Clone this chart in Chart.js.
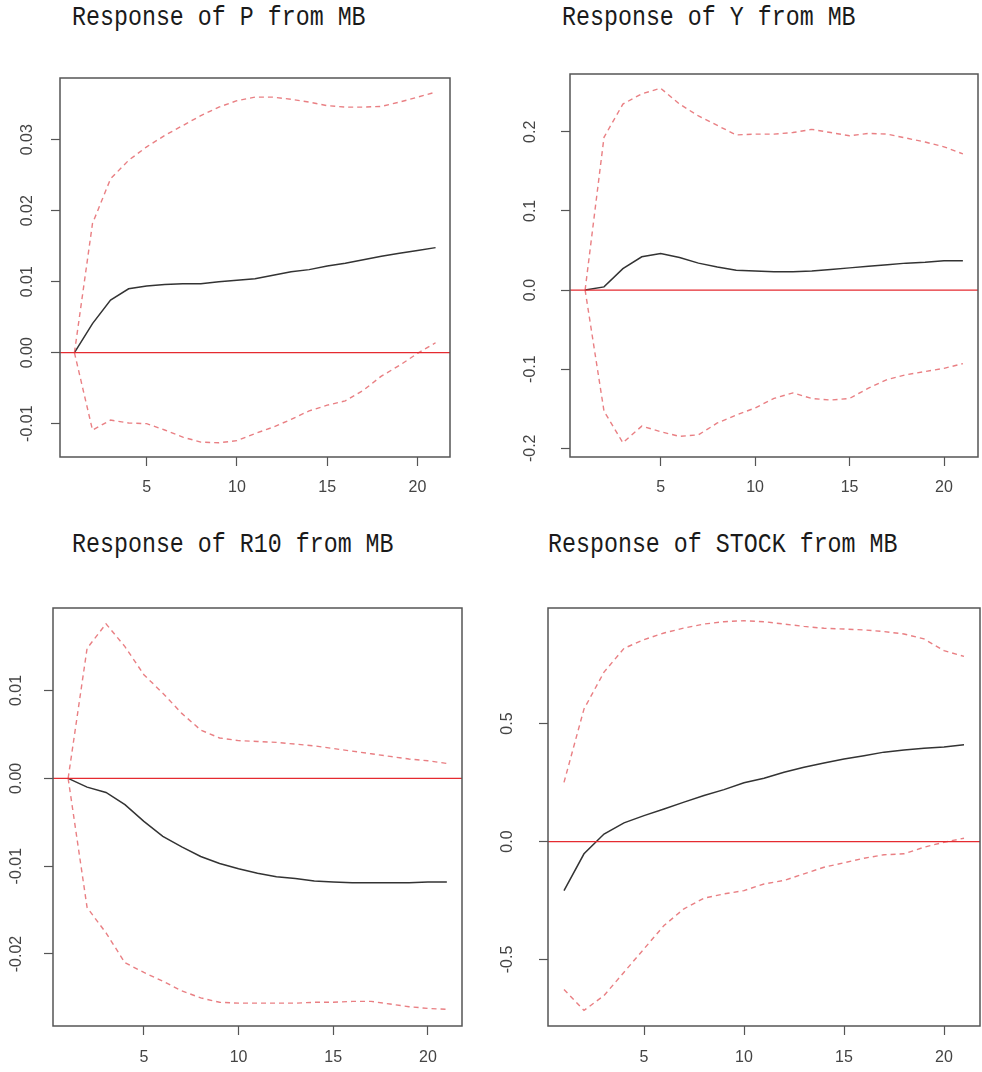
<!DOCTYPE html>
<html>
<head>
<meta charset="utf-8">
<script src="https://cdn.jsdelivr.net/npm/chart.js@4.4.0/dist/chart.umd.min.js"></script>
<style>
  html, body { margin: 0; padding: 0; background: #fff; }
  body { position: relative; width: 982px; height: 1072px; overflow: hidden; }
  canvas { position: absolute; }
  .title {
    position: absolute;
    font-family: "Liberation Mono", monospace;
    font-size: 23.3px;
    color: #1a1a1a;
    white-space: pre;
    transform: scaleY(1.2);
    transform-origin: left top;
  }
</style>
</head>
<body>
<div class="title" style="left:72px; top:2px;">Response of P from MB</div>
<div class="title" style="left:562px; top:2px;">Response of Y from MB</div>
<div class="title" style="left:72px; top:529px;">Response of R10 from MB</div>
<div class="title" style="left:548px; top:529px;">Response of STOCK from MB</div>

<canvas id="chartP" width="442" height="426" style="left:10px; top:76px;"></canvas>
<canvas id="chartY" width="460" height="430" style="left:520px; top:72px;"></canvas>
<canvas id="chartR10" width="461" height="465" style="left:3px; top:606px;"></canvas>
<canvas id="chartStock" width="484" height="465" style="left:498px; top:606px;"></canvas>

<script>
// impulse response horizon (periods)
const horizon = [1, 2, 3, 4, 5, 6, 7, 8, 9, 10, 11, 12, 13, 14, 15, 16, 17, 18, 19, 20, 21];

// Response of P from MB
const pResp  = [0, 0.0041, 0.0074, 0.0090, 0.0094, 0.0096, 0.0097, 0.0097, 0.0100, 0.0102, 0.0104,
                0.0109, 0.0114, 0.0117, 0.0122, 0.0126, 0.0131, 0.0136, 0.0140, 0.0144, 0.0148];
const pUpper = [0, 0.0182, 0.0245, 0.0271, 0.0290, 0.0306, 0.0320, 0.0334, 0.0346, 0.0355, 0.0360,
                0.0360, 0.0357, 0.0353, 0.0348, 0.0346, 0.0346, 0.0347, 0.0353, 0.0360, 0.0367];
const pLower = [0, -0.0109, -0.0095, -0.0099, -0.0100, -0.0109, -0.0119, -0.0126, -0.0127, -0.0124, -0.0114,
                -0.0105, -0.0094, -0.0082, -0.0074, -0.0068, -0.0053, -0.0033, -0.0018, -0.0001, 0.0014];

// Response of Y from MB
const yResp  = [0, 0.004, 0.027, 0.042, 0.046, 0.041, 0.034, 0.029, 0.025, 0.024, 0.023,
                0.023, 0.024, 0.026, 0.028, 0.030, 0.032, 0.034, 0.035, 0.037, 0.037];
const yUpper = [0, 0.193, 0.235, 0.248, 0.255, 0.235, 0.220, 0.208, 0.196, 0.197, 0.197,
                0.199, 0.203, 0.199, 0.195, 0.198, 0.197, 0.192, 0.187, 0.181, 0.172];
const yLower = [0, -0.153, -0.193, -0.172, -0.179, -0.185, -0.183, -0.168, -0.158, -0.149, -0.137,
                -0.130, -0.137, -0.139, -0.137, -0.124, -0.113, -0.107, -0.103, -0.099, -0.093];

// Response of R10 from MB
const rResp  = [0, -0.0010, -0.0016, -0.0030, -0.0049, -0.0066, -0.0078, -0.0089, -0.0097, -0.0103, -0.0108,
                -0.0112, -0.0114, -0.0117, -0.0118, -0.0119, -0.0119, -0.0119, -0.0119, -0.0118, -0.0118];
const rUpper = [0, 0.0148, 0.0176, 0.0150, 0.0118, 0.0097, 0.0074, 0.0055, 0.0046, 0.0043, 0.0042,
                0.0041, 0.0039, 0.0037, 0.0034, 0.0031, 0.0028, 0.0025, 0.0022, 0.0020, 0.0017];
const rLower = [0, -0.0147, -0.0176, -0.0210, -0.0221, -0.0231, -0.0242, -0.0250, -0.0255, -0.0256, -0.0256,
                -0.0256, -0.0256, -0.0255, -0.0255, -0.0254, -0.0254, -0.0257, -0.0260, -0.0262, -0.0263];

// Response of STOCK from MB
const sResp  = [-0.208, -0.052, 0.032, 0.079, 0.110, 0.138, 0.167, 0.195, 0.220, 0.249, 0.268,
                0.294, 0.315, 0.333, 0.350, 0.364, 0.379, 0.388, 0.395, 0.401, 0.410];
const sUpper = [0.251, 0.562, 0.718, 0.819, 0.856, 0.884, 0.905, 0.922, 0.932, 0.936, 0.932,
                0.922, 0.912, 0.904, 0.901, 0.897, 0.890, 0.880, 0.859, 0.809, 0.785];
const sLower = [-0.627, -0.716, -0.653, -0.554, -0.455, -0.356, -0.285, -0.240, -0.222, -0.208, -0.180,
                -0.165, -0.137, -0.109, -0.090, -0.071, -0.056, -0.052, -0.024, -0.003, 0.014];

const X_MIN = 0.2, X_MAX = 21.8;
const TICK_LEN = 9;
const Y_FONT = { family: "'Liberation Sans', Arial, sans-serif", size: 16 };
const X_FONT = { family: "'Liberation Sans', Arial, sans-serif", size: 16 };
const BAND_COLOR = "rgba(228,95,100,0.8)";

// box around the plot region (R style frame)
const framePlugin = {
  id: "frame",
  afterDatasetsDraw(chart) {
    const { ctx, chartArea: a } = chart;
    ctx.save();
    ctx.strokeStyle = "#555";
    ctx.lineWidth = 1.5;
    ctx.strokeRect(a.left, a.top, a.right - a.left, a.bottom - a.top);
    ctx.restore();
  },
};

// widest y label, so rotated labels end up centred at a fixed gap from the axis
function widestLabel(min, max, step, dec) {
  const c = document.createElement("canvas").getContext("2d");
  c.font = Y_FONT.size + "px " + Y_FONT.family;
  let w = 0;
  for (let v = Math.ceil(min / step) * step; v <= max; v += step) {
    w = Math.max(w, c.measureText((Math.round(v / step) * step).toFixed(dec)).width);
  }
  return w;
}

function toPoints(values) {
  return horizon.map((t, i) => ({ x: t, y: values[i] }));
}

function makePanel(id, resp, lower, upper, ax) {
  const yPad = ax.labelGap - TICK_LEN - widestLabel(ax.min, ax.max, ax.step, ax.dec) / 2;
  return new Chart(document.getElementById(id), {
    type: "line",
    data: {
      datasets: [
        {
          data: [{ x: X_MIN, y: 0 }, { x: X_MAX, y: 0 }],
          borderColor: "#e52b30",
          borderWidth: 1.3,
        },
        {
          data: toPoints(upper),
          borderColor: BAND_COLOR,
          borderWidth: 1.4,
          borderDash: [5, 4],
        },
        {
          data: toPoints(lower),
          borderColor: BAND_COLOR,
          borderWidth: 1.4,
          borderDash: [5, 4],
        },
        {
          data: toPoints(resp),
          borderColor: "#333",
          borderWidth: 1.5,
        },
      ],
    },
    options: {
      responsive: false,
      animation: false,
      parsing: false,
      elements: { point: { radius: 0 }, line: { tension: 0 } },
      layout: { padding: { left: 0, top: 2, right: 2, bottom: 0 } },
      plugins: { legend: { display: false }, tooltip: { enabled: false } },
      scales: {
        x: {
          type: "linear",
          min: X_MIN,
          max: X_MAX,
          afterFit: (s) => { s.height = 45; s.paddingLeft = 0; s.paddingRight = 0; },
          border: { display: false },
          grid: { drawOnChartArea: false, drawTicks: true, tickLength: TICK_LEN, tickColor: "#555", tickWidth: 1.2 },
          ticks: {
            stepSize: 5,
            includeBounds: false,
            maxRotation: 0,
            padding: ax.xPad,
            color: "#444",
            font: X_FONT,
            callback: (v) => String(v),
          },
        },
        y: {
          type: "linear",
          min: ax.min,
          max: ax.max,
          afterFit: (s) => { s.width = 50; s.paddingTop = 0; s.paddingBottom = 0; },
          border: { display: false },
          grid: { drawOnChartArea: false, drawTicks: true, tickLength: TICK_LEN, tickColor: "#555", tickWidth: 1.2 },
          ticks: {
            stepSize: ax.step,
            includeBounds: false,
            minRotation: 90,
            maxRotation: 90,
            crossAlign: "center",
            padding: yPad,
            color: "#444",
            font: Y_FONT,
            callback: (v) => Number(v).toFixed(ax.dec),
          },
        },
      },
    },
    plugins: [framePlugin],
  });
}

makePanel("chartP", pResp, pLower, pUpper,
  { min: -0.0147, max: 0.0387, step: 0.01, dec: 2, labelGap: 32, xPad: 12 });
makePanel("chartY", yResp, yLower, yUpper,
  { min: -0.211, max: 0.273, step: 0.1, dec: 1, labelGap: 39, xPad: 12 });
makePanel("chartR10", rResp, rLower, rUpper,
  { min: -0.0282, max: 0.0194, step: 0.01, dec: 2, labelGap: 36, xPad: 13 });
makePanel("chartStock", sResp, sLower, sUpper,
  { min: -0.782, max: 0.99, step: 0.5, dec: 1, labelGap: 40, xPad: 13 });
</script>
</body>
</html>
